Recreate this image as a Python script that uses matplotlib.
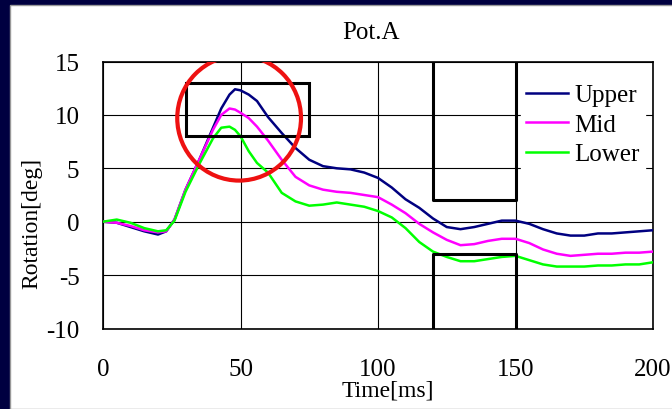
import matplotlib.pyplot as plt
from matplotlib.patches import Rectangle, Ellipse

# data
time_ms = [0, 5, 10, 15, 20, 23, 26, 30, 35, 40, 43, 46, 48, 50, 53, 56, 60, 65, 70, 75,
           80, 85, 90, 95, 100, 105, 110, 115, 120, 125, 130, 135, 140, 145, 150, 155,
           160, 165, 170, 175, 180, 185, 190, 195, 200]
upper = [0, -0.1, -0.5, -0.9, -1.2, -0.9, 0.2, 3.0, 5.8, 8.8, 10.6, 11.9, 12.4, 12.3, 11.9,
         11.3, 9.8, 8.3, 6.9, 5.8, 5.2, 5.0, 4.9, 4.6, 4.1, 3.2, 2.1, 1.3, 0.3, -0.5, -0.7,
         -0.5, -0.2, 0.1, 0.1, -0.2, -0.7, -1.1, -1.3, -1.3, -1.1, -1.1, -1.0, -0.9, -0.8]
mid = [0, -0.1, -0.4, -0.8, -1.0, -0.9, 0.2, 3.0, 5.8, 8.6, 10.0, 10.6, 10.5, 10.2, 9.7,
       8.9, 7.6, 5.8, 4.2, 3.4, 3.0, 2.8, 2.7, 2.5, 2.3, 1.6, 0.8, -0.2, -1.0, -1.7, -2.2,
       -2.1, -1.8, -1.6, -1.6, -2.0, -2.6, -3.0, -3.2, -3.1, -3.0, -3.0, -2.9, -2.9, -2.8]
lower = [0, 0.2, -0.1, -0.6, -0.9, -0.8, 0.1, 2.8, 5.4, 7.8, 8.8, 8.9, 8.6, 8.0, 6.6,
         5.5, 4.6, 2.7, 1.9, 1.5, 1.6, 1.8, 1.6, 1.4, 1.0, 0.4, -0.6, -1.9, -2.8, -3.3, -3.7,
         -3.7, -3.5, -3.3, -3.2, -3.6, -4.0, -4.2, -4.2, -4.2, -4.1, -4.1, -4.0, -4.0, -3.8]

series_names = ['Upper', 'Mid', 'Lower']
series_colors = ['#000080', '#ff00ff', '#00ff00']

plt.rcParams['font.family'] = ['Liberation Serif', 'DejaVu Serif']
plt.rcParams['axes.unicode_minus'] = False

fig = plt.figure(figsize=(6.72, 4.10), dpi=100)
fig.patch.set_facecolor('#000040')
# white slide panel
fig.patches.append(Rectangle((10 / 672, 0), 1, 1 - 6 / 410, transform=fig.transFigure,
                             facecolor='white', edgecolor='#999999', lw=1, zorder=-5))

ax = fig.add_axes([103 / 672, (410 - 329.5) / 410, 550 / 672, 267 / 410])
ax.set_zorder(2)
ax.set_facecolor('white')

for ys, name, c in zip([upper, mid, lower], series_names, series_colors):
    ax.plot(time_ms, ys, color=c, lw=1.8, label=name, zorder=3)

ax.set_xlim(0, 200)
ax.set_ylim(-10, 15)
ax.set_xticks([0, 50, 100, 150, 200])
ax.set_yticks([-10, -5, 0, 5, 10, 15])
ax.grid(True, color='black', lw=0.8)
ax.set_axisbelow(True)
ax.tick_params(length=0, labelsize=18)
ax.tick_params(axis='x', pad=21)
ax.tick_params(axis='y', pad=17)
for s in ax.spines.values():
    s.set_linewidth(1.2)

# marked regions
ax.add_patch(Rectangle((30, 8), 45, 5, fill=False, edgecolor='black', lw=2.2, zorder=4))
ax.plot([120, 120, 150, 150], [15, 2, 2, 15], color='black', lw=2.2, zorder=4)
ax.plot([120, 120, 150, 150], [-10, -3, -3, -10], color='black', lw=2.2, zorder=4)
ax.add_patch(Ellipse((49.5, 9.7), 45, 11.7, fill=False, edgecolor='#ee1111', lw=3,
                     zorder=5))

leg = ax.legend(loc='upper right', bbox_to_anchor=(0.985, 0.935), fontsize=18,
                frameon=True, fancybox=False, edgecolor='white', framealpha=1,
                handlelength=1.7, handletextpad=0.25, labelspacing=0.28,
                borderpad=0.2, borderaxespad=0)
leg.set_zorder(6)

fig.text(371 / 672, 1 - 33 / 410, 'Pot.A', ha='center', va='center', fontsize=18)
fig.text(388 / 672, 1 - 391 / 410, 'Time[ms]', ha='center', va='center', fontsize=17)
fig.text(32 / 672, 1 - 223 / 410, 'Rotation[deg]', ha='center', va='center',
         rotation=90, fontsize=17)

fig.savefig('out.png', dpi=100, facecolor=fig.get_facecolor())
